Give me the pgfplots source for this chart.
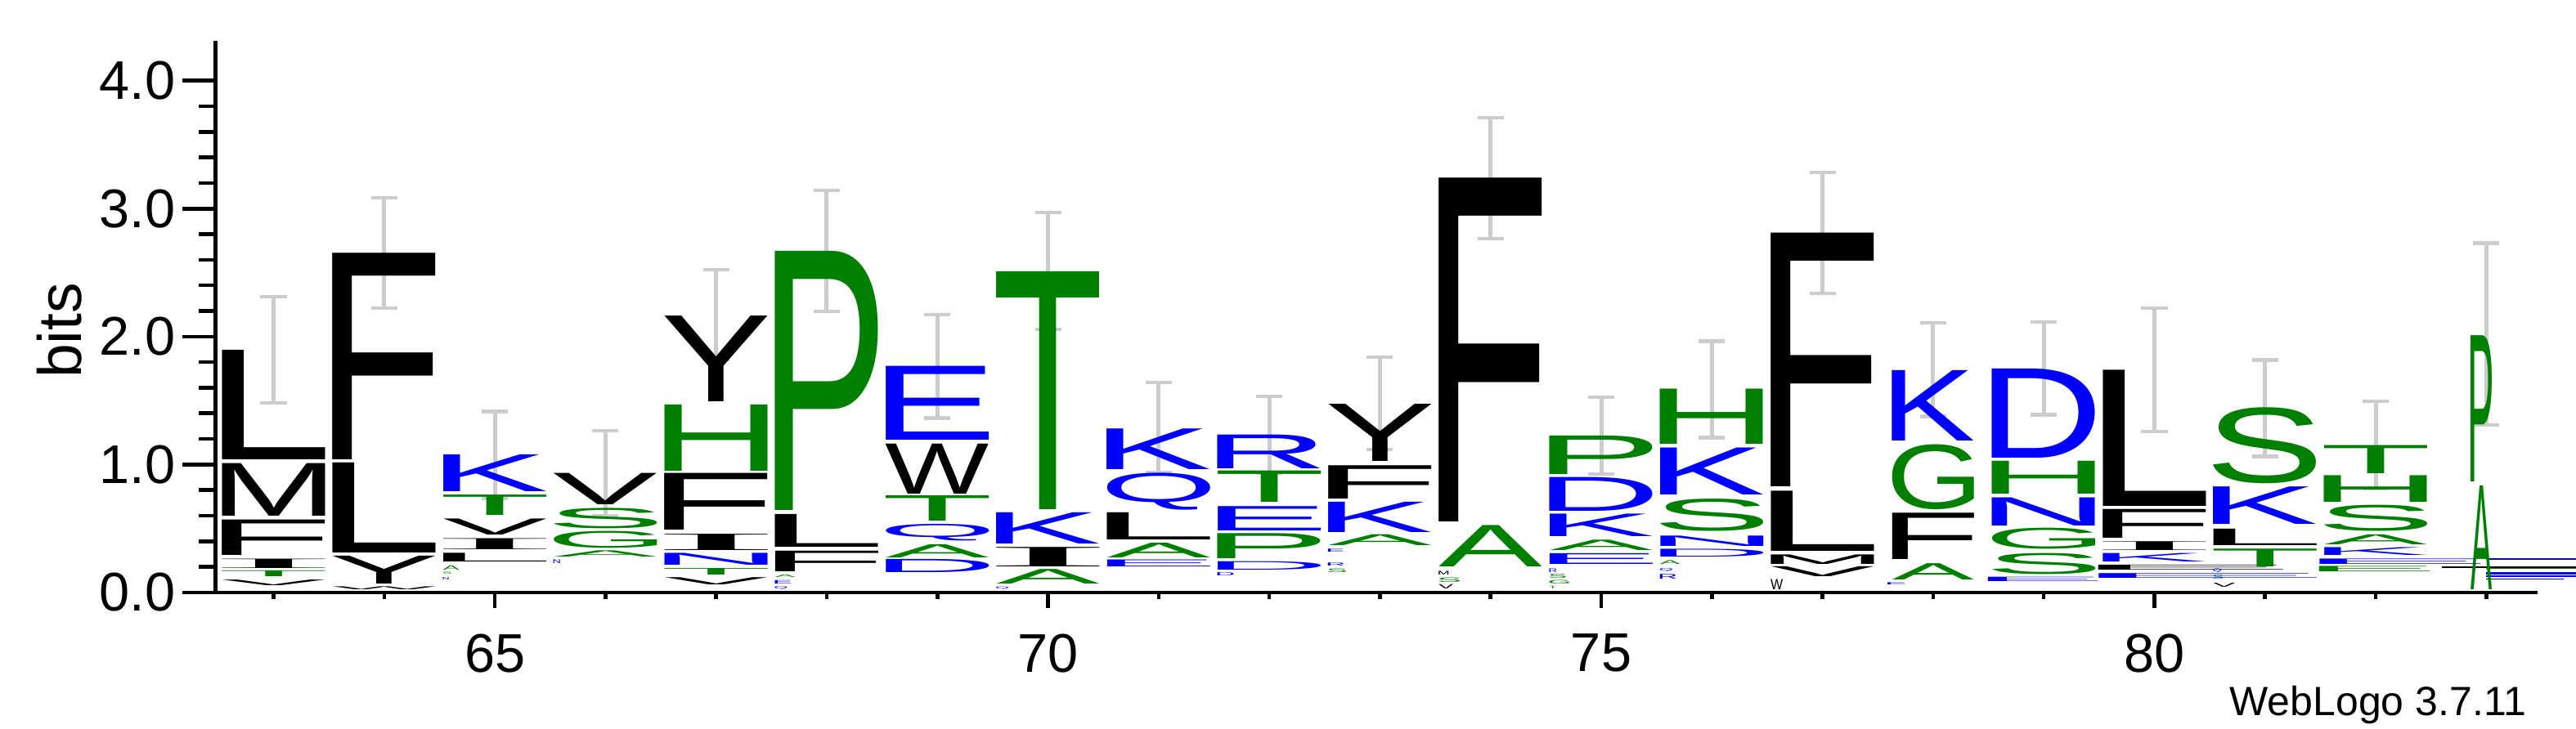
\documentclass[border=0pt]{standalone}
\usepackage{fontspec}
\setmainfont{Liberation Sans}
\newfontfamily\logofont{Liberation Sans}
\newfontfamily\logofontI{Liberation Serif}
\usepackage{graphicx}
\usepackage{pgfplots}
\usepackage{pgfplotstable}
\pgfplotsset{compat=1.18}
\definecolor{cg}{HTML}{008000}
\definecolor{cb}{HTML}{0000FF}
\definecolor{ck}{HTML}{000000}
\definecolor{egray}{HTML}{CCCCCC}
\newcount\glyphslot
\newcommand\inkletter[1]{%
  \begingroup
  \if I#1\logofontI\else\logofont\fi
  \glyphslot=\XeTeXcharglyph`#1\relax
  \hbox{\kern-\XeTeXglyphbounds1 \glyphslot #1\kern-\XeTeXglyphbounds3 \glyphslot}%
  \endgroup}
\def\bitunit{37.58}
\def\pxunit{0.24}

% black letters: x = centre, lo/hi = bottom/top in bits, w = width in px
\pgfplotstableread{
x lo hi w L
63 1.039 1.895 126 L
63 0.599 1.010 126 M
63 0.293 0.570 126 F
63 0.191 0.264 126 I
63 0.056 0.100 126 V
64 1.039 2.653 126 F
64 0.311 1.015 126 L
64 0.068 0.286 126 Y
64 0.022 0.045 126 W
65 0.452 0.577 126 V
65 0.337 0.423 126 I
65 0.240 0.308 126 L
66 0.687 0.932 126 V
67 1.494 2.164 126 Y
67 0.489 0.932 126 F
67 0.330 0.457 126 I
67 0.061 0.117 126 V
68 0.355 0.611 126 L
68 0.164 0.325 126 F
69 0.770 1.161 126 W
70 0.203 0.355 126 I
71 0.411 0.623 126 L
73 1.027 1.474 126 Y
73 0.733 0.993 126 F
74 0.550 3.235 126 F
73.575 0.137 0.166 12 M
73.598 0.027 0.061 18 V
77 0.826 2.807 126 F
77 0.325 0.795 126 L
77 0.222 0.296 126 M
77 0.125 0.203 126 V
76.586 0.020 0.100 15 W
78 0.257 0.619 100 F
80 0.672 1.736 126 L
80 0.423 0.648 126 F
80 0.330 0.399 126 I
80.330 0.174 0.213 226 E
81 0.367 0.496 126 L
80.631 0.044 0.076 27 V
}\lettersK

% green letters
\pgfplotstableread{
x lo hi w L
63 0.125 0.171 126 T
65 0.606 0.765 126 T
64.605 0.174 0.208 20 A
64.568 0.137 0.154 10 S
66 0.496 0.655 126 S
66 0.345 0.477 126 G
66 0.276 0.325 126 A
67 0.949 1.467 126 H
67 0.137 0.188 126 T
68 0.643 2.667 126 P
67.623 0.117 0.137 25 A
69 0.557 0.755 126 T
69 0.271 0.374 126 A
70 0.648 2.506 126 T
70 0.064 0.178 126 A
71 0.271 0.386 126 A
72 0.704 0.949 126 T
72 0.264 0.460 126 P
73 0.367 0.452 126 A
72.612 0.154 0.183 22 S
74 0.203 0.526 126 A
73.627 0.081 0.117 26 S
75 0.924 1.225 126 P
75 0.330 0.411 126 A
74.605 0.110 0.142 20 S
74.620 0.064 0.093 24 G
74.561 0.024 0.044 8 T
76 1.161 1.592 126 H
76 0.477 0.729 126 S
75.623 0.222 0.252 25 A
78 0.648 1.156 100 G
78 0.100 0.227 100 A
79 0.770 1.027 126 H
79 0.337 0.501 126 G
79 0.142 0.306 126 S
81 0.851 1.445 126 S
81 0.203 0.342 126 T
80.575 0.105 0.137 12 S
82 0.932 1.152 126 T
82 0.704 0.912 126 H
82 0.477 0.680 126 S
82 0.374 0.452 126 A
81.990 0.161 0.203 136 E
82.955 0.863 2.005 26 P
82.955 0.020 0.831 26 A
}\lettersG

% blue letters
\pgfplotstableread{
x lo hi w L
65 0.790 1.078 126 K
64.557 0.098 0.117 7 N
65.560 0.227 0.257 8 N
67 0.213 0.306 126 N
67.605 0.066 0.093 20 E
67.586 0.020 0.044 15 Q
69 1.191 1.768 126 E
69 0.403 0.533 126 Q
69 0.154 0.257 126 D
70 0.379 0.623 126 K
69.586 0.020 0.040 15 Q
71 0.961 1.279 126 K
71 0.643 0.932 126 Q
71 0.203 0.257 126 E
72 0.966 1.230 126 R
72 0.482 0.672 126 E
72 0.174 0.240 126 D
71.605 0.130 0.155 20 D
73 0.467 0.704 126 K
72.601 0.313 0.337 19 E
72.605 0.208 0.232 20 R
75 0.636 0.900 126 D
75 0.435 0.611 126 K
75 0.222 0.306 126 E
74.564 0.154 0.183 9 R
76 0.765 1.132 126 K
76 0.362 0.443 126 N
76 0.276 0.337 126 D
75.586 0.166 0.191 15 Q
75.605 0.105 0.142 20 R
78 1.186 1.736 100 K
77.670 0.056 0.073 22 E
79 1.051 1.748 126 D
79 0.521 0.741 126 N
78.990 0.088 0.122 134 E
80 0.240 0.306 126 K
80.480 0.112 0.149 266 E
81 0.533 0.826 126 K
80.568 0.154 0.183 10 Q
82 0.289 0.350 126 K
82.220 0.222 0.264 197 E
}\lettersB

\pgfplotstableread{
x c e
63 1.896 0.417
64 2.653 0.430
65 1.075 0.340
66 0.932 0.333
67 2.170 0.350
68 2.668 0.472
69 1.768 0.404
70 2.513 0.458
71 1.290 0.349
72 1.233 0.300
73 1.478 0.363
74 3.238 0.474
75 1.224 0.300
76 1.587 0.377
77 2.810 0.474
78 1.743 0.367
79 1.752 0.363
80 1.740 0.480
81 1.440 0.377
82 1.152 0.343
83 2.020 0.710
}\errs

\pgfplotsset{
  logoletters/.style={
    only marks, mark=*, mark size=0pt, mark options={draw=none, fill=none},
    point meta=explicit symbolic,
    visualization depends on={\thisrow{hi}-\thisrow{lo} \as \hh},
    visualization depends on={\thisrow{w} \as \ww},
    every node near coord/.style={anchor=south, inner sep=0pt, outer sep=0pt},
    nodes near coords={\pgfmathsetmacro\hpt{\hh*\bitunit}\pgfmathsetmacro\wpt{\ww*\pxunit}\color{#1}\resizebox*{\wpt pt}{\hpt pt}{\expandafter\inkletter\expandafter{\pgfplotspointmeta}}},
  },
  logoaxis/.style={
    at={(0,0)}, anchor=south west,
    x=32.47pt, y=37.58pt,
    xmin=62.475, xmax=83.46, ymin=0, ymax=4.31,
    clip=false,
    axis line style={line width=1pt, -},
    tick style={line width=1.1pt, black},
    tick align=outside,
    /pgf/number format/assume math mode=true,
    tick label style={font=\fontsize{16}{18}\selectfont},
  },
}

\begin{document}
\begin{tikzpicture}
% axis carrying the x ticks
\begin{axis}[logoaxis,
  axis x line*=bottom, axis y line=none,
  major tick length=4.6pt, minor tick length=2pt,
  xtick={65,70,75,80},
  minor xtick={63,...,83},
  ytick=\empty,
  xticklabel style={anchor=north, inner sep=0pt, yshift=-7.4pt},
]
\addplot[draw=none, mark=none, forget plot] coordinates {(63,0) (83,0)};
\end{axis}
% main axis with the y ticks and the logo
\begin{axis}[logoaxis,
  axis x line*=bottom, axis y line*=left,
  major tick length=9.6pt, minor tick length=4.8pt,
  xtick=\empty,
  ytick={0,1,2,3,4},
  minor y tick num=4,
  yticklabel style={anchor=east, inner sep=0pt, xshift=-2pt, /pgf/number format/.cd, fixed, fixed zerofill, precision=1},
  ylabel={bits},
  ylabel style={font=\fontsize{18}{20}\selectfont, at={(axis description cs:-0.0673,0.475)}, anchor=center},
]
\addplot[logoletters=ck] table[x=x, y=lo, meta=L] {\lettersK};
\addplot[logoletters=cg] table[x=x, y=lo, meta=L] {\lettersG};
\addplot[logoletters=cb] table[x=x, y=lo, meta=L] {\lettersB};

\addplot[cb, line width=0.5pt, forget plot] coordinates {(83.0,0.262) (83.81,0.262)};
\addplot[cg, line width=0.5pt, forget plot] coordinates {(83.0,0.192) (83.81,0.192)};
\addplot[ck, line width=0.4pt, forget plot] coordinates {(82.6,0.198) (83.81,0.198)};
\addplot[cb, line width=0.5pt, forget plot] coordinates {(83.0,0.150) (83.81,0.150)};
\addplot[cb, line width=0.5pt, forget plot] coordinates {(83.0,0.125) (83.81,0.125)};
\addplot[cb, line width=0.4pt, forget plot] coordinates {(83.0,0.105) (83.7,0.105)};

\addplot[draw=none, mark=none, forget plot,
  error bars/.cd, y dir=both, y explicit,
  error bar style={line width=1.2pt, draw=egray},
  error mark options={rotate=90, line width=1pt, mark size=3.85pt, draw=egray},
] table[x=x, y=c, y error=e] {\errs};

\node[anchor=base east, font=\fontsize{12}{14}\selectfont, inner sep=0pt] at ([yshift=-36pt]rel axis cs:0.9955,0) {WebLogo 3.7.11};
\end{axis}
\pgfresetboundingbox
\path[use as bounding box] (-63.24pt,-40.08pt) rectangle (692.76pt,174pt);
\end{tikzpicture}
\end{document}
